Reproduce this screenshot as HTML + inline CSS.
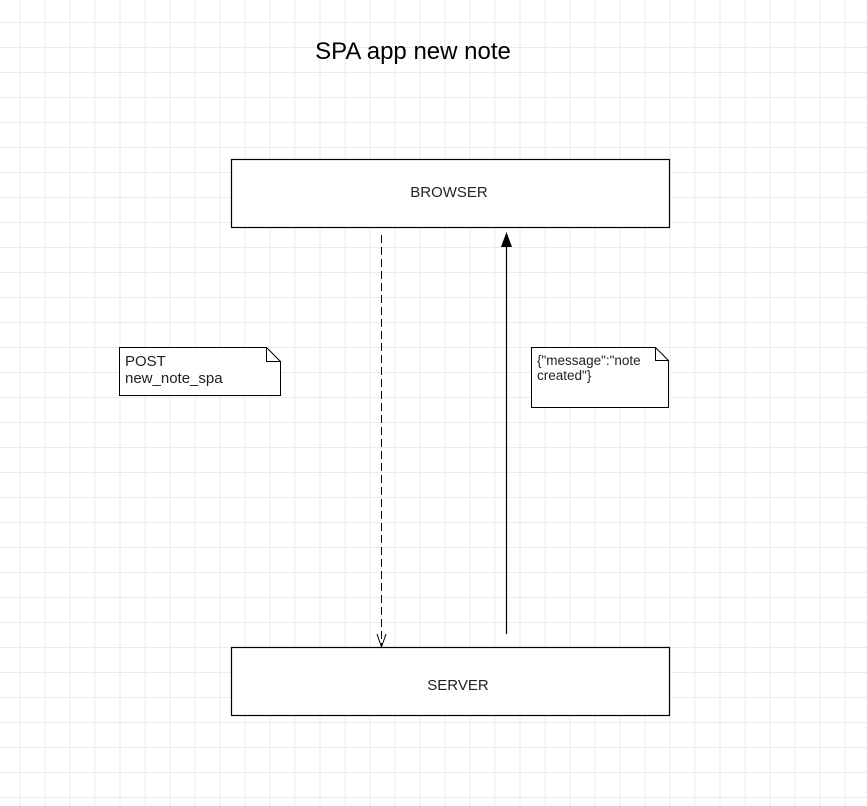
<!DOCTYPE html>
<html><head><style>
html,body{margin:0;padding:0;background:#fff;}
body{width:867px;height:806px;overflow:hidden;position:relative;font-family:"Liberation Sans",sans-serif;}
</style></head><body>
<svg width="867" height="806" xmlns="http://www.w3.org/2000/svg" style="position:absolute;left:0;top:0">
<defs>
<pattern id="g" x="19.5" y="22" width="25" height="25" patternUnits="userSpaceOnUse">
<path d="M0.5 0V25M0 0.5H25" stroke="#ebebeb" stroke-width="1" fill="none"/>
</pattern>
</defs>
<rect x="0" y="0" width="867" height="806" fill="url(#g)"/>
<text x="413" y="59" font-size="24" text-anchor="middle" fill="#000" font-family="Liberation Sans, sans-serif">SPA app new note</text>
<rect x="231.5" y="159.5" width="438" height="68" fill="#fff" stroke="#000" stroke-width="1.2"/>
<text x="449" y="197" font-size="15" text-anchor="middle" fill="#222">BROWSER</text>
<rect x="231.5" y="647.5" width="438" height="68" fill="#fff" stroke="#000" stroke-width="1.2"/>
<text x="458" y="690" font-size="15" text-anchor="middle" fill="#222">SERVER</text>
<line x1="381.5" y1="235" x2="381.5" y2="646" stroke="#000" stroke-width="1" stroke-dasharray="8,4"/>
<path d="M377 634L381.5 647L386 634" fill="none" stroke="#000" stroke-width="1"/>
<line x1="506.5" y1="634" x2="506.5" y2="245" stroke="#000" stroke-width="1.2"/>
<path d="M501 247L506.5 232L512 247Z" fill="#000"/>
<path d="M119.5 347.5H266.5L280.5 361.5V395.5H119.5Z" fill="#fff" stroke="#000" stroke-width="1"/>
<path d="M266.5 347.5V361.5H280.5" fill="none" stroke="#000" stroke-width="1"/>
<text x="125" y="366" font-size="15" fill="#222">POST</text>
<text x="125" y="383" font-size="15" fill="#222">new_note_spa</text>
<path d="M531.5 347.5H655.5L668.5 360.5V407.5H531.5Z" fill="#fff" stroke="#000" stroke-width="1"/>
<path d="M655.5 347.5V360.5H668.5" fill="none" stroke="#000" stroke-width="1"/>
<text x="537" y="365" font-size="13.5" fill="#222">{"message":"note</text>
<text x="537" y="380" font-size="13.5" fill="#222">created"}</text>
</svg>
</body></html>
